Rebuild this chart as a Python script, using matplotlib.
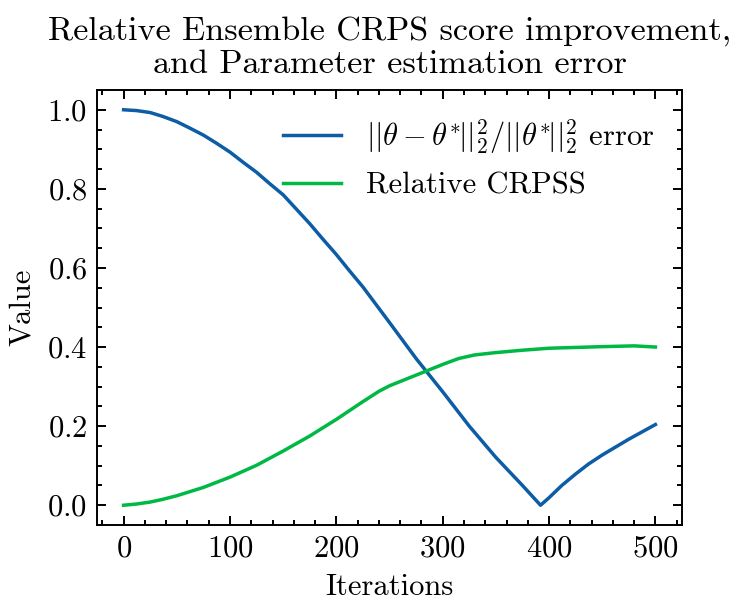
import matplotlib
matplotlib.use("Agg")
import matplotlib.pyplot as plt
from matplotlib.ticker import AutoMinorLocator

# Data
iters_err = [0, 12, 25, 37, 50, 62, 75, 87, 100, 112, 125, 137, 150, 162, 175,
             187, 200, 212, 225, 250, 275, 300, 325, 350, 375, 392, 400, 412,
             425, 437, 450, 475, 500]
param_err = [1.000, 0.998, 0.993, 0.983, 0.970, 0.954, 0.936, 0.916, 0.893, 0.868,
             0.842, 0.814, 0.785, 0.750, 0.712, 0.674, 0.634, 0.594, 0.552, 0.462,
             0.371, 0.287, 0.200, 0.121, 0.050, 0.000, 0.019, 0.050, 0.079, 0.104,
             0.127, 0.167, 0.204]

iters_crps = [0, 12, 25, 37, 50, 75, 100, 125, 150, 175, 200, 225, 240, 250, 275,
              300, 315, 330, 350, 375, 400, 425, 450, 480, 500]
rel_crpss = [0.000, 0.003, 0.008, 0.015, 0.024, 0.045, 0.071, 0.101, 0.137, 0.175,
             0.217, 0.262, 0.288, 0.302, 0.329, 0.356, 0.371, 0.380, 0.386, 0.392,
             0.397, 0.399, 0.401, 0.403, 0.400]

label_err = r'$||\theta - \theta^{*}\!||_2^2/||\theta^{*}\!||_2^2$ error'
label_crps = 'Relative CRPSS'
title = 'Relative Ensemble CRPS score improvement,\nand Parameter estimation error'

plt.rcParams.update({
    'font.family': 'serif',
    'font.serif': ['cmr10'],
    'mathtext.fontset': 'cm',
    'axes.formatter.use_mathtext': True,
    'font.size': 11,
    'axes.linewidth': 0.7,
    'xtick.direction': 'in',
    'ytick.direction': 'in',
    'xtick.top': True,
    'ytick.right': True,
    'xtick.major.size': 3.3,
    'ytick.major.size': 3.3,
    'xtick.minor.size': 1.8,
    'ytick.minor.size': 1.8,
    'xtick.major.width': 0.7,
    'ytick.major.width': 0.7,
    'xtick.minor.width': 0.7,
    'ytick.minor.width': 0.7,
    'xtick.minor.visible': True,
    'ytick.minor.visible': True,
})

fig = plt.figure(figsize=(3.74, 3.06), dpi=200)
ax = fig.add_axes([97/748, 1-525/612, (682-97)/748, (525-90)/612])

ax.plot(iters_err, param_err, color='#0C5DA5', lw=1.25, label=label_err)
ax.plot(iters_crps, rel_crpss, color='#00B945', lw=1.25, label=label_crps)

ax.set_xticks([0, 100, 200, 300, 400, 500])
ax.set_yticks([0.0, 0.2, 0.4, 0.6, 0.8, 1.0])
ax.xaxis.set_minor_locator(AutoMinorLocator(5))
ax.yaxis.set_minor_locator(AutoMinorLocator(4))
ax.set_xlabel('Iterations')
ax.set_ylabel('Value')
ax.set_title(title, fontsize=12.3)
ax.legend(loc='upper right', frameon=False, handlelength=1.9)

fig.savefig('out.png', dpi=200)
